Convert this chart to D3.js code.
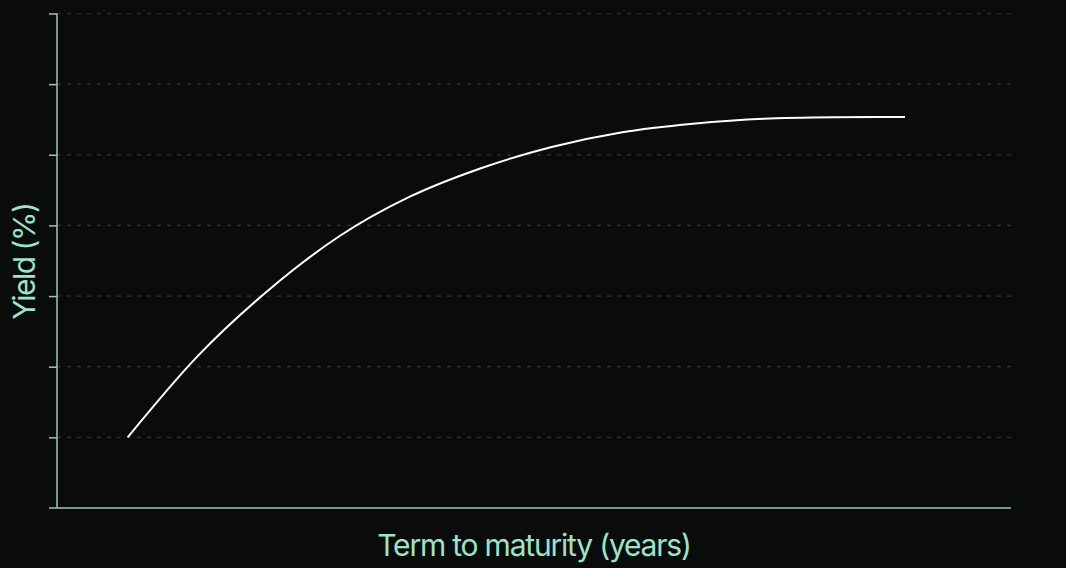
<!DOCTYPE html>
<html>
<head>
<meta charset="utf-8">
<script src="https://cdn.jsdelivr.net/npm/d3@7"></script>
<style>
  html, body { margin: 0; padding: 0; background: #0a0c0c; }
  svg { display: block; }
</style>
</head>
<body>
<svg id="chart" width="1066" height="568"></svg>
<script>
// ---- data ----
const termYears = [1, 2, 3, 4, 5, 6, 7, 8, 9, 10, 11, 12];
const yieldPct  = [1.0, 2.16, 3.09, 3.85, 4.41, 4.81, 5.11, 5.32, 5.44, 5.51, 5.53, 5.535];
const yTicks = [1, 2, 3, 4, 5, 6, 7];
const xLabel = "Term to maturity (years)";
const yLabel = "Yield (%)";

// ---- layout ----
const svg = d3.select("#chart");
const W = 1066, H = 568;
const m = { left: 57, right: 55, top: 13.5, bottom: 60 };
const axisColor = "#a3c4b8";
const labelColor = "#9ee3c8";

svg.append("rect").attr("width", W).attr("height", H).attr("fill", "#0a0c0c");

const x = d3.scaleLinear().domain([0, 13.5]).range([m.left, W - m.right]);
const y = d3.scaleLinear().domain([0, 7]).range([H - m.bottom, m.top]);

// gridlines
svg.append("g")
  .selectAll("line")
  .data(yTicks)
  .join("line")
  .attr("x1", x(0)).attr("x2", x(13.5))
  .attr("y1", d => y(d)).attr("y2", d => y(d))
  .attr("stroke", "#2c302f")
  .attr("stroke-width", 1.2)
  .attr("stroke-dasharray", "4,6");

// left axis
const yAxis = d3.axisLeft(y).tickValues(yTicks).tickSize(8).tickFormat("");
const gy = svg.append("g").attr("transform", `translate(${m.left},0)`).call(yAxis);
gy.select(".domain").remove();
gy.selectAll(".tick line").attr("stroke", axisColor).attr("stroke-width", 1.5);
gy.append("line")
  .attr("x1", 0).attr("x2", 0)
  .attr("y1", y(7)).attr("y2", y(0))
  .attr("stroke", axisColor).attr("stroke-width", 1.5);

// bottom axis line (extends past y axis like a tick at 0)
svg.append("line")
  .attr("x1", m.left - 8).attr("x2", x(13.5))
  .attr("y1", y(0)).attr("y2", y(0))
  .attr("stroke", axisColor).attr("stroke-width", 1.5);

// curve
const line = d3.line()
  .x((d, i) => x(termYears[i]))
  .y(d => y(d))
  .curve(d3.curveMonotoneX);

svg.append("path")
  .datum(yieldPct)
  .attr("d", line)
  .attr("fill", "none")
  .attr("stroke", "#ffffff")
  .attr("stroke-width", 2);

// labels
svg.append("text")
  .attr("x", (x(0) + x(13.5)) / 2)
  .attr("y", 556)
  .attr("text-anchor", "middle")
  .attr("fill", labelColor)
  .attr("font-family", "Inter, 'Open Sans', sans-serif")
  .attr("font-size", 30)
  .attr("letter-spacing", "-1.2px")
  .text(xLabel);

svg.append("text")
  .attr("transform", `translate(35, ${y(3.5) + 1}) rotate(-90)`)
  .attr("text-anchor", "middle")
  .attr("fill", labelColor)
  .attr("font-family", "Inter, 'Open Sans', sans-serif")
  .attr("font-size", 30)
  .attr("letter-spacing", "-1.5px")
  .text(yLabel);
</script>
</body>
</html>
